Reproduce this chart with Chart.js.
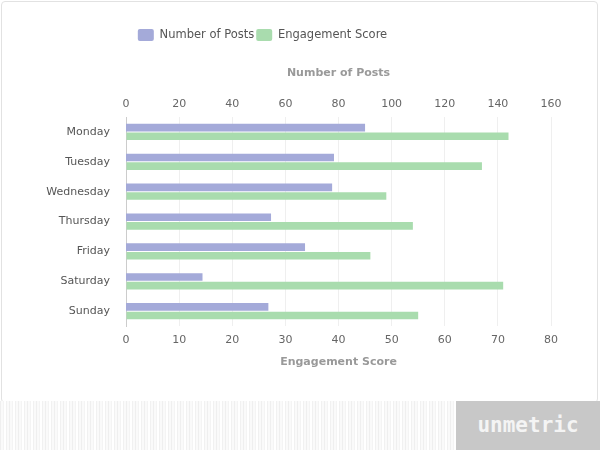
<!DOCTYPE html>
<html>
<head>
<meta charset="utf-8">
<script src="https://cdn.jsdelivr.net/npm/chart.js@4"></script>
<style>
    html, body { margin: 0; padding: 0; background: #fff; }
    body { width: 600px; height: 450px; position: relative; overflow: hidden; font-family: "DejaVu Sans", sans-serif; }
    #card { position: absolute; left: 1px; top: 1px; width: 597px; height: 402px; box-sizing: border-box; border: 1px solid #e2e2e2; border-radius: 4px; }
    #wrap { position: absolute; left: 0; top: 0; width: 600px; height: 400px; }
    #stripes {
        position: absolute; left: 0; top: 401px; width: 456px; height: 49px;
        background: repeating-linear-gradient(90deg, #efefef 0 1px, #fafafa 1px 3px, #f4f4f4 3px 4px, #ffffff 4px 6px, #f1f1f1 6px 7px, #fafafa 7px 9px);
    }
    #brand {
        position: absolute; left: 456px; top: 401px; width: 144px; height: 49px;
        background: #c8c8c8; color: #f4f4f4; text-align: center; line-height: 49px;
        font-family: "DejaVu Sans Mono", monospace; font-weight: bold; font-size: 21px;
    }
</style>
</head>
<body>
<div id="card"></div>
<div id="wrap"><canvas id="chart" width="600" height="400"></canvas></div>
<div id="stripes"></div>
<div id="brand">unmetric</div>
<script>
    // data
    const days = ['Monday', 'Tuesday', 'Wednesday', 'Thursday', 'Friday', 'Saturday', 'Sunday'];
    const posts = [90, 78.3, 77.6, 54.6, 67.4, 28.8, 53.6];
    const engagement = [72, 67, 49, 54, 46, 71, 55];
    const postTicks = [0, 160, 20];       // min, max, step
    const engagementTicks = [0, 80, 10];

    // legend sits a little left of the canvas centre in the original
    const legendShift = {
        id: 'legendShift',
        afterLayout(chart) {
            chart.legend.left -= 13;
            chart.legend.right -= 13;
        }
    };

    const tickFont = { family: 'DejaVu Sans', size: 11 };
    const titleFont = { family: 'DejaVu Sans', size: 11, weight: 'bold' };

    new Chart(document.getElementById('chart').getContext('2d'), {
        type: 'bar',
        data: {
            labels: days,
            datasets: [{
                label: 'Number of Posts',
                data: posts,
                xAxisID: 'xPosts',
                backgroundColor: '#a4aad9',
                borderWidth: 0
            }, {
                label: 'Engagement Score',
                data: engagement,
                xAxisID: 'x',
                backgroundColor: '#a9dcae',
                borderWidth: 0
            }]
        },
        options: {
            indexAxis: 'y',
            responsive: false,
            animation: false,
            datasets: { bar: { categoryPercentage: 0.58, barPercentage: 0.88 } },
            layout: { padding: { top: 27, left: 0, right: 49, bottom: 31 } },
            plugins: {
                tooltip: { enabled: false },
                legend: {
                    position: 'top',
                    labels: {
                        boxWidth: 16,
                        boxHeight: 12,
                        padding: 2,
                        useBorderRadius: true,
                        borderRadius: 2,
                        color: '#555',
                        font: { family: 'DejaVu Sans', size: 11.5 }
                    }
                }
            },
            scales: {
                xPosts: {
                    type: 'linear',
                    position: 'top',
                    min: postTicks[0],
                    max: postTicks[1],
                    ticks: { stepSize: postTicks[2], padding: 6, color: '#666', font: tickFont },
                    grid: { display: false, drawTicks: false },
                    border: { display: false },
                    title: { display: true, text: 'Number of Posts', color: '#999', font: titleFont, padding: { top: 16, bottom: 11.6 } }
                },
                x: {
                    type: 'linear',
                    position: 'bottom',
                    min: engagementTicks[0],
                    max: engagementTicks[1],
                    ticks: { stepSize: engagementTicks[2], padding: 7, color: '#666', font: tickFont },
                    grid: { color: '#efefef', drawTicks: false },
                    border: { display: false },
                    title: { display: true, text: 'Engagement Score', color: '#999', font: titleFont, padding: { top: 2.5, bottom: 0 } }
                },
                y: {
                    ticks: { padding: 16, color: '#555', font: tickFont },
                    grid: { display: false, drawTicks: false },
                    border: { display: true, color: '#ccc' },
                    afterFit(scale) { scale.width = 126; }
                }
            }
        },
        plugins: [legendShift]
    });
</script>
</body>
</html>
